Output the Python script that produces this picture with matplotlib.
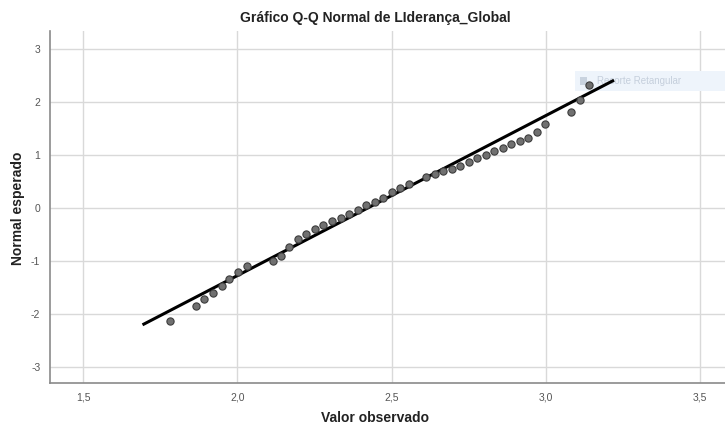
import matplotlib.pyplot as plt
from matplotlib.patches import Rectangle

plt.rcParams['font.family'] = ['Liberation Sans', 'DejaVu Sans']
plt.rcParams['axes.unicode_minus'] = False

valor_observado = [
    1.782, 1.865, 1.893, 1.920, 1.949, 1.973, 2.003, 2.031, 2.114, 2.142,
    2.167, 2.197, 2.224, 2.251, 2.278, 2.307, 2.335, 2.362, 2.390, 2.417,
    2.445, 2.472, 2.500, 2.528, 2.556, 2.612, 2.639, 2.666, 2.694, 2.722,
    2.750, 2.777, 2.805, 2.832, 2.860, 2.888, 2.917, 2.943, 2.971, 2.998,
    3.082, 3.109, 3.138,
]
normal_esperado = [
    -2.13, -1.85, -1.72, -1.61, -1.48, -1.34, -1.21, -1.09, -0.99, -0.90,
    -0.74, -0.59, -0.49, -0.40, -0.32, -0.25, -0.19, -0.11, -0.04, 0.05,
    0.11, 0.18, 0.30, 0.38, 0.46, 0.58, 0.65, 0.69, 0.74, 0.80,
    0.86, 0.94, 1.01, 1.08, 1.14, 1.21, 1.26, 1.33, 1.43, 1.59,
    1.81, 2.04, 2.32,
]

# reference line (normal with estimated mean / sd)
media = 2.422
desvio = 0.331
linha_x = [1.697, 3.216]
linha_y = [(v - media) / desvio for v in linha_x]

x_ticks = [1.5, 2.0, 2.5, 3.0, 3.5]
x_labels = ["1,5", "2,0", "2,5", "3,0", "3,5"]
y_ticks = [-3, -2, -1, 0, 1, 2, 3]

fig = plt.figure(figsize=(7.25, 4.25), dpi=100)
ax = fig.add_axes([0.069, 0.099, 0.931, 0.828])

ax.grid(True, color="#d9d9d9", linewidth=1.0)
ax.set_axisbelow(True)
ax.plot(linha_x, linha_y, color="black", linewidth=2.2, zorder=3)
ax.plot(valor_observado, normal_esperado, "o", markersize=5.2,
        markerfacecolor="#707070", markeredgecolor="#3c3c3c",
        markeredgewidth=0.8, zorder=4)

ax.set_xlim(1.393, 3.58)
ax.set_ylim(-3.3, 3.34)
ax.set_xticks(x_ticks)
ax.set_xticklabels(x_labels)
ax.set_yticks(y_ticks)
ax.tick_params(length=0, labelsize=7.5, labelcolor="#555555", pad=7)

for s in ["top", "right"]:
    ax.spines[s].set_visible(False)
for s in ["left", "bottom"]:
    ax.spines[s].set_color("#8a8a8a")
    ax.spines[s].set_linewidth(1.2)

fig.text(0.517, 0.958, "Gráfico Q-Q Normal de LIderança_Global",
         ha="center", va="center", fontsize=10, fontweight="bold",
         color="#222222")
fig.text(0.517, 0.016, "Valor observado", ha="center", va="center",
         fontsize=10, fontweight="bold", color="#222222")
fig.text(0.025, 0.51, "Normal esperado", ha="center", va="center",
         rotation=90, fontsize=10, fontweight="bold", color="#222222")

# faint screen-capture tooltip present in the picture (drawn under the data)
ax.add_patch(Rectangle((0.793, 0.786), 0.207, 0.047, transform=fig.transFigure,
                       facecolor="#eef4fb", edgecolor="none", zorder=2,
                       clip_on=False))
ax.add_patch(Rectangle((0.800, 0.800), 0.010, 0.018, transform=fig.transFigure,
                       facecolor="#c9d3df", edgecolor="none", zorder=2,
                       clip_on=False))
ax.text(0.824, 0.809, "Recorte Retangular", transform=fig.transFigure,
        ha="left", va="center", fontsize=7, color="#c5cfdc", zorder=2,
        clip_on=False)

fig.savefig("out.png", dpi=100)
